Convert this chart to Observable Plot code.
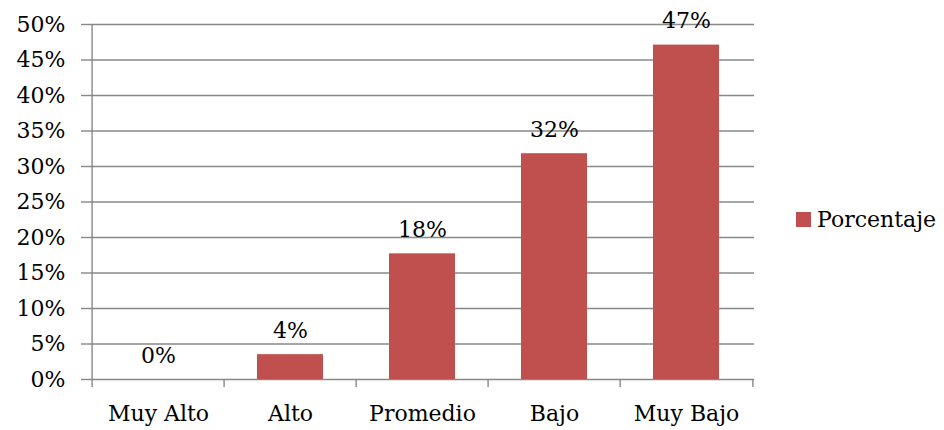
<!DOCTYPE html>
<html>
<head>
<meta charset="utf-8">
<script src="https://cdn.jsdelivr.net/npm/d3@7"></script>
<script src="https://cdn.jsdelivr.net/npm/@observablehq/plot@0.6"></script>
<style>
  html, body { margin: 0; padding: 0; background: #fff; }
  #wrap { position: relative; width: 944px; height: 430px; font-family: "DejaVu Serif", serif; }
  #legend { position: absolute; left: 796px; top: 207px; display: flex; align-items: center; font-size: 22px; color: #000; }
  #legend .sw { width: 15px; height: 15px; background: #C0504D; margin-right: 6px; }
</style>
</head>
<body>
<div id="wrap"><div id="legend"><span class="sw"></span><span>Porcentaje</span></div></div>
<script>
const categories = ["Muy Alto", "Alto", "Promedio", "Bajo", "Muy Bajo"];
const values = [0, 3.5, 17.7, 31.8, 47.1];
const yTicks = [0, 5, 10, 15, 20, 25, 30, 35, 40, 45, 50];
const seriesName = "Porcentaje";

const data = categories.map((c, i) => ({ cat: c, value: values[i] }));
const W = 944, H = 430, ML = 90, MR = 190, MT = 24, MB = 51;
const halfStep = (W - ML - MR) / categories.length / 2;
const grey = "#888888";

const chart = Plot.plot({
  width: W, height: H,
  marginLeft: ML, marginRight: MR, marginTop: MT, marginBottom: MB,
  style: { fontFamily: "DejaVu Serif, serif", fontSize: "22px", color: "#000", background: "#fff" },
  x: { domain: categories, paddingInner: 0.5, paddingOuter: 0.25, label: null },
  y: { domain: [0, 50], label: null },
  marks: [
    Plot.ruleY(yTicks, { stroke: grey, strokeWidth: 1.4 }),
    Plot.axisY({ ticks: yTicks, tickFormat: d => d + "%", tickSize: 9, tickPadding: 16, stroke: grey, strokeWidth: 1.4, fill: "#000", strokeOpacity: 1 }),
    Plot.axisX({ tickSize: 0, tickPadding: 26, fill: "#000" }),
    Plot.ruleX([categories[0]], { x: d => d, y1: 50, y2: 0, insetBottom: -8, dx: -halfStep, stroke: grey, strokeWidth: 1.4 }),
    Plot.ruleX(categories.slice(1), { x: d => d, y1: 0, y2: 0, insetBottom: -8, dx: -halfStep, stroke: grey, strokeWidth: 1.4 }),
    Plot.ruleX([categories[categories.length - 1]], { x: d => d, y1: 0, y2: 0, insetBottom: -8, dx: halfStep, stroke: grey, strokeWidth: 1.4 }),
    Plot.barY(data, { x: "cat", y: "value", fill: "#C0504D" }),
    Plot.text(data, { x: "cat", y: "value", text: d => Math.round(d.value) + "%", dy: -24, fill: "#000", fontSize: 22 })
  ]
});
document.getElementById("wrap").prepend(chart);
</script>
</body>
</html>
